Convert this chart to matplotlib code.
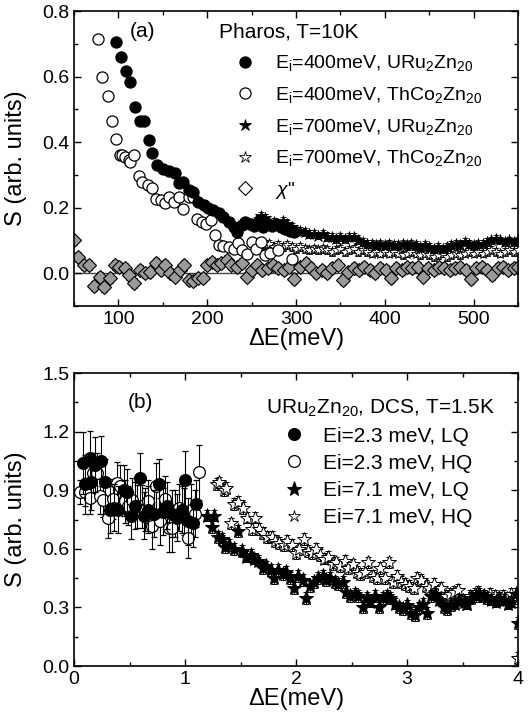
import matplotlib
matplotlib.use("Agg")
import matplotlib.pyplot as plt
from matplotlib.ticker import MultipleLocator

plt.rcParams['font.family'] = ['Liberation Sans', 'DejaVu Sans']
plt.rcParams['mathtext.fontset'] = 'custom'
plt.rcParams['mathtext.rm'] = 'Liberation Sans'
plt.rcParams['mathtext.it'] = 'Liberation Sans:italic'

# ---------------- panel (a): Pharos, T=10K ----------------
a_u400_x = [97, 103, 108, 113, 119, 124, 129, 134, 138, 144, 150, 157, 164, 168, 173, 179,
            184, 190, 196, 201, 207, 213, 218, 224, 230, 233, 239, 243, 248, 253, 258, 263,
            268, 273, 278, 283, 288, 293, 298]
a_u400_y = [0.706, 0.659, 0.618, 0.582, 0.508, 0.464, 0.464, 0.406, 0.366, 0.330, 0.318,
            0.313, 0.305, 0.274, 0.279, 0.254, 0.249, 0.218, 0.208, 0.198, 0.193, 0.183,
            0.173, 0.157, 0.142, 0.127, 0.147, 0.157, 0.150, 0.145, 0.160, 0.140, 0.150,
            0.145, 0.150, 0.140, 0.135, 0.130, 0.125]

a_th400_x = [77, 82, 88, 93, 97, 102, 104, 107, 112, 113, 117, 123, 127, 133, 138, 142, 148,
             153, 157, 163, 168, 173, 179, 184, 188, 194, 199, 204, 209, 213, 218, 224, 230,
             235, 239, 245, 250, 255, 260, 265, 271, 280, 295]
a_th400_y = [0.716, 0.600, 0.541, 0.464, 0.410, 0.361, 0.361, 0.355, 0.345, 0.340, 0.361,
             0.297, 0.279, 0.269, 0.259, 0.226, 0.223, 0.213, 0.234, 0.218, 0.234, 0.195,
             0.234, 0.234, 0.165, 0.157, 0.150, 0.163, 0.117, 0.086, 0.083, 0.080, 0.073,
             0.091, 0.070, 0.060, 0.096, 0.075, 0.096, 0.056, 0.061, 0.070, 0.043]

a_u700_x = [250, 255, 260, 265, 270, 275, 280, 285, 290, 295, 300, 305, 310, 315, 320, 325,
            330, 335, 340, 345, 350, 355, 360, 365, 370, 375, 380, 385, 390, 395, 400, 405,
            410, 415, 420, 425, 430, 435, 440, 445, 450, 455, 460, 465, 470, 475, 480, 485,
            490, 495, 500, 505, 510, 515, 520, 525, 530, 535, 540, 545, 550]
a_u700_y = [0.150, 0.160, 0.175, 0.170, 0.150, 0.155, 0.150, 0.160, 0.150, 0.140, 0.130,
            0.130, 0.125, 0.120, 0.120, 0.115, 0.120, 0.110, 0.110, 0.105, 0.110, 0.105,
            0.110, 0.110, 0.100, 0.095, 0.090, 0.090, 0.085, 0.090, 0.085, 0.090, 0.085,
            0.085, 0.090, 0.085, 0.090, 0.085, 0.080, 0.085, 0.080, 0.075, 0.080, 0.075,
            0.080, 0.085, 0.090, 0.085, 0.095, 0.090, 0.085, 0.090, 0.090, 0.095, 0.100,
            0.105, 0.100, 0.095, 0.100, 0.095, 0.100]

a_th700_x = [260, 265, 270, 275, 280, 285, 290, 295, 300, 305, 310, 315, 320, 325, 330, 335,
             340, 345, 350, 355, 360, 365, 370, 375, 380, 385, 390, 395, 400, 405, 410, 415,
             420, 425, 430, 435, 440, 445, 450, 455, 460, 465, 470, 475, 480, 485, 490, 495,
             500, 505, 510, 515, 520, 525, 530, 535, 540, 545, 550]
a_th700_y = [0.090, 0.085, 0.090, 0.080, 0.085, 0.080, 0.085, 0.080, 0.075, 0.080, 0.075,
             0.070, 0.075, 0.070, 0.075, 0.070, 0.065, 0.070, 0.075, 0.065, 0.070, 0.075,
             0.065, 0.070, 0.065, 0.060, 0.065, 0.060, 0.065, 0.060, 0.065, 0.060, 0.055,
             0.060, 0.065, 0.060, 0.055, 0.060, 0.055, 0.050, 0.055, 0.060, 0.050, 0.055,
             0.060, 0.055, 0.060, 0.065, 0.060, 0.065, 0.060, 0.065, 0.070, 0.065, 0.060,
             0.065, 0.070, 0.065, 0.070]

a_chi_x = [50, 55, 61, 67, 73, 79, 84, 90, 96, 101, 107, 112, 118, 124, 130, 136, 142, 148,
           153, 158, 164, 169, 174, 179, 184, 190, 195, 200, 205, 211, 216, 222, 227, 233,
           239, 245, 250, 256, 262, 268, 274, 280, 286, 292, 298, 305, 311, 317, 323, 329,
           335, 341, 347, 353, 359, 365, 371, 377, 383, 389, 395, 401, 407, 413, 419, 425,
           431, 437, 443, 449, 455, 461, 467, 473, 479, 485, 491, 497, 503, 509, 515, 521,
           527, 533, 539, 545, 550]
a_chi_y = [0.100, 0.050, 0.025, 0.025, -0.040, -0.010, -0.041, -0.015, 0.025, 0.020, 0.015,
           -0.005, -0.030, 0.010, 0.000, 0.005, 0.030, 0.010, 0.025, 0.000, -0.010, 0.010,
           0.025, -0.020, -0.025, -0.015, -0.015, 0.025, 0.035, 0.025, 0.030, 0.040, 0.025,
           0.020, 0.030, -0.010, 0.010, 0.025, 0.010, 0.015, 0.025, 0.015, 0.010, 0.020,
           -0.018, 0.020, 0.030, 0.015, 0.000, 0.010, 0.000, 0.015, 0.025, -0.020, 0.005,
           0.015, 0.010, 0.020, 0.010, 0.000, 0.015, 0.010, -0.015, 0.015, 0.010, 0.020,
           0.015, 0.020, -0.010, 0.015, 0.010, 0.020, 0.015, 0.010, 0.015, 0.020, 0.010,
           -0.018, 0.015, 0.020, 0.010, -0.005, 0.015, 0.020, 0.010, 0.015, 0.020]

# ---------------- panel (b): URu2Zn20, DCS, T=1.5K ----------------
b_lq23_x = [0.08, 0.10, 0.14, 0.15, 0.19, 0.24, 0.28, 0.32, 0.36, 0.40, 0.45, 0.48, 0.51,
            0.55, 0.59, 0.63, 0.67, 0.72, 0.77, 0.80, 0.84, 0.88, 0.93, 0.97, 1.00, 1.03,
            1.07, 1.10]
b_lq23_y = [1.04, 0.93, 1.065, 0.94, 1.03, 1.05, 0.94, 0.80, 0.81, 0.80, 0.90, 0.89, 0.77,
            0.82, 0.96, 0.77, 0.80, 0.78, 0.93, 0.79, 0.82, 0.78, 0.76, 0.80, 0.95, 0.74,
            0.73, 0.83]
b_lq23_e = [0.16, 0.15, 0.14, 0.14, 0.14, 0.13, 0.12, 0.12, 0.12, 0.12, 0.13, 0.12, 0.12,
            0.12, 0.13, 0.12, 0.12, 0.12, 0.13, 0.12, 0.12, 0.12, 0.12, 0.12, 0.15, 0.12,
            0.12, 0.12]

b_hq23_x = [0.05, 0.10, 0.145, 0.175, 0.21, 0.235, 0.265, 0.31, 0.35, 0.385, 0.415, 0.46,
            0.49, 0.52, 0.566, 0.61, 0.64, 0.67, 0.70, 0.74, 0.777, 0.816, 0.852, 0.88, 0.91,
            0.95, 0.987, 1.024, 1.054, 1.093, 1.123]
b_hq23_y = [0.89, 0.89, 0.86, 0.988, 0.988, 0.868, 0.851, 0.757, 0.855, 0.937, 0.92, 0.843,
            0.82, 0.851, 0.817, 0.817, 0.80, 0.843, 0.718, 0.92, 0.74, 0.855, 0.706, 0.706,
            0.783, 0.81, 0.79, 0.655, 0.80, 0.78, 0.991]
b_hq23_e = [0.06, 0.07, 0.08, 0.10, 0.10, 0.09, 0.09, 0.10, 0.10, 0.11, 0.11, 0.11, 0.10,
            0.11, 0.11, 0.11, 0.11, 0.11, 0.12, 0.12, 0.12, 0.12, 0.12, 0.12, 0.12, 0.12,
            0.12, 0.10, 0.13, 0.12, 0.14]

b_lq71_x = [1.20, 1.24, 1.26, 1.30, 1.33, 1.36, 1.40, 1.44, 1.48, 1.51, 1.55, 1.59, 1.62,
            1.66, 1.70, 1.73, 1.77, 1.80, 1.84, 1.88, 1.91, 1.95, 1.98, 2.02, 2.06, 2.09,
            2.13, 2.16, 2.20, 2.24, 2.27, 2.31, 2.35, 2.38, 2.42, 2.45, 2.49, 2.53, 2.56,
            2.60, 2.64, 2.67, 2.71, 2.75, 2.78, 2.82, 2.85, 2.89, 2.93, 2.96, 3.00, 3.04,
            3.07, 3.11, 3.14, 3.18, 3.22, 3.25, 3.29, 3.33, 3.36, 3.40, 3.43, 3.47, 3.51,
            3.54, 3.58, 3.62, 3.65, 3.69, 3.72, 3.76, 3.80, 3.83, 3.87, 3.91, 3.94, 3.98,
            4.00]
b_lq71_y = [0.77, 0.71, 0.77, 0.66, 0.65, 0.61, 0.62, 0.60, 0.69, 0.59, 0.56, 0.57, 0.55,
            0.54, 0.50, 0.51, 0.49, 0.45, 0.49, 0.47, 0.48, 0.45, 0.40, 0.46, 0.44, 0.35,
            0.41, 0.43, 0.45, 0.46, 0.44, 0.45, 0.43, 0.42, 0.43, 0.38, 0.36, 0.37, 0.36,
            0.30, 0.35, 0.33, 0.36, 0.30, 0.35, 0.36, 0.35, 0.32, 0.30, 0.29, 0.31, 0.27,
            0.26, 0.30, 0.32, 0.27, 0.36, 0.37, 0.34, 0.30, 0.29, 0.31, 0.32, 0.34, 0.33,
            0.32, 0.35, 0.36, 0.37, 0.36, 0.35, 0.34, 0.33, 0.35, 0.34, 0.32, 0.33, 0.37,
            0.22]

b_hq71_x = [1.29, 1.31, 1.35, 1.37, 1.41, 1.44, 1.48, 1.52, 1.56, 1.60, 1.63, 1.67, 1.70,
            1.74, 1.78, 1.81, 1.85, 1.89, 1.92, 1.96, 2.00, 2.03, 2.07, 2.11, 2.14, 2.18,
            2.22, 2.25, 2.29, 2.33, 2.36, 2.40, 2.44, 2.47, 2.51, 2.55, 2.58, 2.62, 2.65,
            2.69, 2.73, 2.76, 2.80, 2.84, 2.87, 2.91, 2.95, 2.98, 3.02, 3.06, 3.09, 3.13,
            3.17, 3.20, 3.24, 3.28, 3.31, 3.35, 3.39, 3.42, 3.46, 3.50, 3.53, 3.57, 3.61,
            3.64, 3.68, 3.72, 3.75, 3.79, 3.83, 3.86, 3.90, 3.94, 3.97, 4.00]
b_hq71_y = [0.93, 0.94, 0.90, 0.91, 0.73, 0.83, 0.84, 0.81, 0.76, 0.70, 0.76, 0.70, 0.68,
            0.66, 0.66, 0.64, 0.63, 0.62, 0.64, 0.62, 0.58, 0.60, 0.65, 0.59, 0.58, 0.60,
            0.57, 0.55, 0.56, 0.52, 0.53, 0.51, 0.54, 0.50, 0.52, 0.48, 0.47, 0.48, 0.53,
            0.46, 0.45, 0.50, 0.45, 0.53, 0.43, 0.46, 0.43, 0.42, 0.41, 0.40, 0.45, 0.44,
            0.41, 0.40, 0.42, 0.38, 0.40, 0.36, 0.37, 0.38, 0.39, 0.34, 0.32, 0.36, 0.37,
            0.38, 0.36, 0.35, 0.37, 0.36, 0.34, 0.36, 0.35, 0.37, 0.35, 0.04]

fig = plt.figure(figsize=(5.31, 7.19), dpi=100)
ax1 = fig.add_axes([0.1394, 0.5744, 0.8362, 0.4103])
ax2 = fig.add_axes([0.1394, 0.0737, 0.8362, 0.4075])

ebkw = dict(ls='none', ecolor='black', elinewidth=0.8, capsize=2.5, capthick=0.8)

# panel a
ax1.axhline(0.0, color='#444444', lw=1.0, zorder=1)
chi = ax1.errorbar(a_chi_x, a_chi_y, yerr=0.015, fmt='D', ms=7, mfc='#9a9a9a', mec='black',
                   mew=0.8, zorder=2, **ebkw)
th700 = ax1.errorbar(a_th700_x, a_th700_y, yerr=0.012, fmt='*', ms=8, mfc='white', mec='black',
                     mew=0.6, zorder=3, **ebkw)
u700 = ax1.errorbar(a_u700_x, a_u700_y, yerr=0.012, fmt='*', ms=9, mfc='black', mec='black',
                    mew=0.6, zorder=4, **ebkw)
th400 = ax1.errorbar(a_th400_x, a_th400_y, yerr=0.01, fmt='o', ms=8, mfc='white', mec='black',
                     mew=0.9, zorder=5, **ebkw)
u400 = ax1.errorbar(a_u400_x, a_u400_y, yerr=0.01, fmt='o', ms=8, mfc='black', mec='black',
                    mew=0.9, zorder=6, **ebkw)

chi_h = plt.Line2D([], [], ls='none', marker='D', ms=7, mfc='white', mec='black', mew=0.8)
star_o = plt.Line2D([], [], ls='none', marker='*', ms=9, mfc='white', mec='black', mew=0.6)
ax1.legend([u400[0], th400[0], u700[0], star_o, chi_h],
           [r'E$_\mathregular{i}$=400meV, URu$_\mathregular{2}$Zn$_\mathregular{20}$',
            r'E$_\mathregular{i}$=400meV, ThCo$_\mathregular{2}$Zn$_\mathregular{20}$',
            r'E$_\mathregular{i}$=700meV, URu$_\mathregular{2}$Zn$_\mathregular{20}$',
            r'E$_\mathregular{i}$=700meV, ThCo$_\mathregular{2}$Zn$_\mathregular{20}$',
            r'$\chi$"'],
           title='Pharos, T=10K', title_fontsize=15, fontsize=14, loc='upper left',
           bbox_to_anchor=(0.30, 1.0), frameon=False, numpoints=1, handlelength=2.7,
           handletextpad=0.2, labelspacing=0.6, borderaxespad=0.2, alignment='left')
ax1.text(0.125, 0.929, '(a)', transform=ax1.transAxes, fontsize=15, ha='left', va='center')

ax1.set_xlim(50, 550)
ax1.set_ylim(-0.1, 0.8)
ax1.xaxis.set_major_locator(MultipleLocator(100))
ax1.xaxis.set_minor_locator(MultipleLocator(50))
ax1.yaxis.set_major_locator(MultipleLocator(0.2))
ax1.yaxis.set_minor_locator(MultipleLocator(0.1))
ax1.set_xlabel('ΔE(meV)', fontsize=17, labelpad=0)
ax1.set_ylabel('S (arb. units)', fontsize=17)

# panel b
hq71 = ax2.errorbar(b_hq71_x, b_hq71_y, yerr=0.03, fmt='*', ms=10, mfc='white', mec='black',
                    mew=0.7, zorder=2, **ebkw)
lq71 = ax2.errorbar(b_lq71_x, b_lq71_y, yerr=0.03, fmt='*', ms=11, mfc='black', mec='black',
                    mew=0.7, zorder=3, **ebkw)
hq23 = ax2.errorbar(b_hq23_x, b_hq23_y, yerr=b_hq23_e, fmt='o', ms=8.5, mfc='white',
                    mec='black', mew=0.9, zorder=4, **ebkw)
lq23 = ax2.errorbar(b_lq23_x, b_lq23_y, yerr=b_lq23_e, fmt='o', ms=8.5, mfc='black',
                    mec='black', mew=0.9, zorder=5, **ebkw)

ax2.legend([lq23[0], hq23[0], lq71[0], star_o],
           ['Ei=2.3 meV, LQ', 'Ei=2.3 meV, HQ', 'Ei=7.1 meV, LQ', 'Ei=7.1 meV, HQ'],
           title=r'URu$_\mathregular{2}$Zn$_\mathregular{20}$, DCS, T=1.5K', title_fontsize=15,
           fontsize=15, loc='upper left', bbox_to_anchor=(0.404, 0.96), frameon=False,
           numpoints=1, handlelength=2.7, handletextpad=0.05, labelspacing=0.39,
           borderaxespad=0.2, alignment='left')
ax2.text(0.122, 0.898, '(b)', transform=ax2.transAxes, fontsize=15, ha='left', va='center')

ax2.set_xlim(0, 4)
ax2.set_ylim(0, 1.5)
ax2.xaxis.set_major_locator(MultipleLocator(1))
ax2.xaxis.set_minor_locator(MultipleLocator(0.5))
ax2.yaxis.set_major_locator(MultipleLocator(0.3))
ax2.yaxis.set_minor_locator(MultipleLocator(0.15))
ax2.set_xlabel('ΔE(meV)', fontsize=17, labelpad=0)
ax2.set_ylabel('S (arb. units)', fontsize=17)

for ax in (ax1, ax2):
    for s in ax.spines.values():
        s.set_linewidth(1.2)
    ax.tick_params(which='both', direction='in', top=True, right=True, labelsize=14, width=1.0)
    ax.tick_params(which='major', length=5)
    ax.tick_params(which='minor', length=3)
    ax.yaxis.set_label_coords(-0.105, 0.5)

fig.savefig('out.png', dpi=100)
